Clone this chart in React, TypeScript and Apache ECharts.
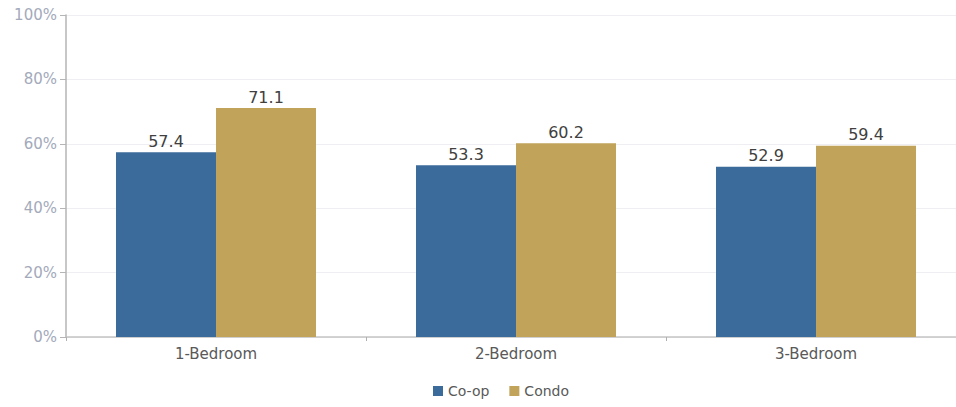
import React, { useEffect, useRef } from "react";
import * as echarts from "echarts";

const categories = ["1-Bedroom", "2-Bedroom", "3-Bedroom"];
const coopValues = [57.4, 53.3, 52.9];
const condoValues = [71.1, 60.2, 59.4];
const seriesNames = ["Co-op", "Condo"];

const FONT = "DejaVu Sans, Liberation Sans, sans-serif";

export default function App() {
  const ref = useRef<HTMLDivElement>(null);
  useEffect(() => {
    if (!ref.current) return;
    document.body.style.overflow = "hidden";
    const chart = echarts.init(ref.current, undefined, { renderer: "svg" });
    const labelStyle = {
      show: true,
      position: "top" as const,
      distance: 3,
      color: "#404040",
      fontSize: 16,
      fontFamily: FONT,
      formatter: (p: any) => p.value.toFixed(1),
    };
    chart.setOption({
      animation: false,
      backgroundColor: "#ffffff",
      grid: { left: 66, top: 15, bottom: 70, right: 0, containLabel: false },
      legend: {
        bottom: 4,
        left: 428,
        itemWidth: 10,
        itemHeight: 10,
        itemGap: 20,
        icon: "rect",
        textStyle: { color: "#595959", fontSize: 14, fontFamily: FONT },
        data: seriesNames,
      },
      xAxis: {
        type: "category",
        data: categories,
        axisLine: { show: true, lineStyle: { color: "#c4c4c4", width: 1.5 } },
        axisTick: { show: true, length: 4, lineStyle: { color: "#b0b0b0" } },
        axisLabel: {
          color: "#595959",
          fontSize: 15,
          margin: 9,
          fontFamily: FONT,
        },
      },
      yAxis: {
        type: "value",
        min: 0,
        max: 100,
        interval: 20,
        axisLine: { show: true, lineStyle: { color: "#b5b5b5", width: 1.5 } },
        axisTick: { show: true, length: 6, lineStyle: { color: "#b5b5b5" } },
        axisLabel: {
          formatter: "{value}%",
          color: "#a3aabb",
          fontSize: 15,
          margin: 9,
          fontFamily: FONT,
        },
        splitLine: { show: true, lineStyle: { color: "#eeeef3", width: 1 } },
      },
      series: [
        {
          name: seriesNames[0],
          type: "bar",
          data: coopValues,
          barWidth: 100,
          barGap: "0%",
          itemStyle: { color: "#3a6b9a" },
          label: labelStyle,
        },
        {
          name: seriesNames[1],
          type: "bar",
          data: condoValues,
          barWidth: 100,
          barGap: "0%",
          itemStyle: { color: "#c1a35a" },
          label: labelStyle,
        },
      ],
    });
    return () => chart.dispose();
  }, []);
  return (
    <div
      ref={ref}
      style={{ position: "fixed", left: 0, top: 0, width: 966, height: 407, background: "#fff" }}
    />
  );
}
